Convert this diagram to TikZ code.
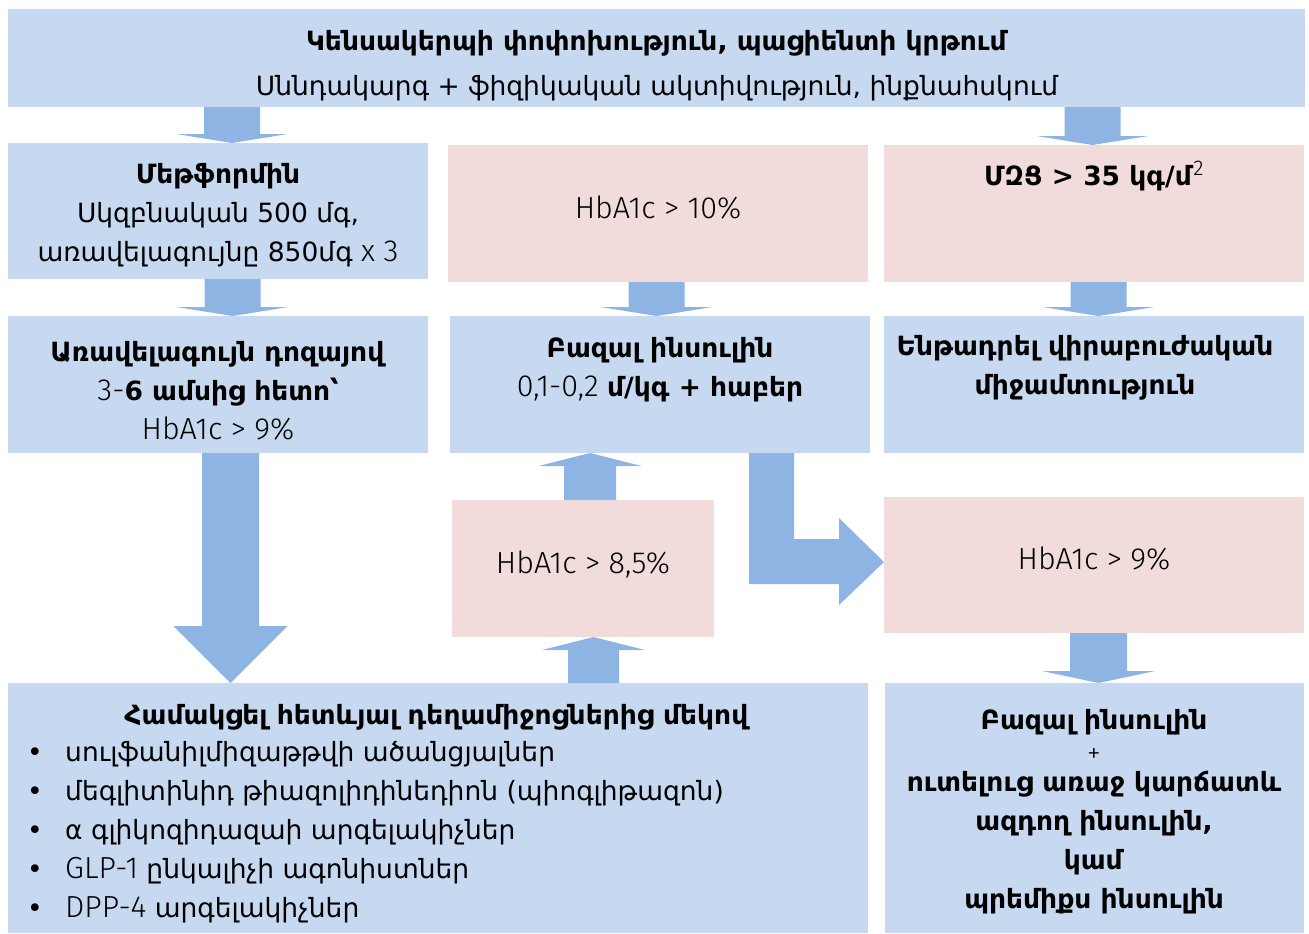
\documentclass[tikz,border=0pt]{standalone}
\usepackage{fontspec}
\setmainfont{DejaVu Sans}
\newfontfamily\lightfont[Scale=1.15]{Fira Sans Light}
\usetikzlibrary{positioning,calc}
\definecolor{boxblue}{HTML}{C6D9F1}
\definecolor{boxpink}{HTML}{F2DCDB}
\definecolor{arrowblue}{HTML}{8EB4E3}
\newcommand{\blockArrow}[5]{\coordinate (s) at (#1); \coordinate (t) at (#2);
	\coordinate (b) at ($(t)!#5!(s)$);
	\fill[arrowblue] ($(s)!#3!90:(t)$) -- ($(b)!#3!-90:(s)$) -- ($(b)!#4!-90:(s)$) -- (t)
	-- ($(b)!#4!90:(s)$) -- ($(b)!#3!90:(s)$) -- ($(s)!#3!-90:(t)$) -- cycle;}
\newcommand{\bulletItem}[3]{\node[lbl, anchor=base] (#1dot) at (35,#2) {•};
	\node[lbl, anchor=base west] (#1) at (65,#2) {#3};}
\begin{document}
\begin{tikzpicture}[x=1pt, y=-1pt, every text
				node part/.style={align=center},
				box/.style={minimum width=420, minimum height=137, anchor=north west, inner sep=0pt, outer sep=0pt},
				bluebox/.style={box, fill=boxblue}, pinkbox/.style={box, fill=boxpink},
				lbl/.style={font=\fontsize{26.5}{39}\selectfont, inner sep=0pt},
				thinlbl/.style={font=\lightfont\fontsize{26.5}{39}\selectfont, inner sep=0pt, anchor=base}]
	\useasboundingbox (0,0) rectangle (1309,934);
	% boxes
	\node[bluebox, minimum width=1297, minimum height=98] (top) at (8,9) {};
	\node[bluebox, minimum height=136] (metf) at (8,143) {};
	\node[bluebox] (maxd) at (8,316) {};
	\node[pinkbox] (hb10) at (448,145) {};
	\node[bluebox] (bazal) at (450,316) {};
	\node[pinkbox] (bmi) at (884,145) {};
	\node[bluebox] (surg) at (884,316) {};
	\node[pinkbox, minimum width=262] (hb85) at (452,500) {};
	\node[pinkbox, minimum height=136] (hb9) at (884,497) {};
	\node[bluebox, minimum width=860, minimum height=250] (combo) at (8,683) {};
	\node[bluebox, minimum width=419, minimum height=250] (ins) at (885,683) {};
	% texts
	\node[lbl] (topText) at (657,66) {\textbf{Կենսակերպի փոփոխություն, պացիենտի կրթում}\\[6pt]
		Սննդակարգ + ֆիզիկական ակտիվություն, ինքնահսկում};
	\node[lbl] (metfText) at (218,215.5) {\textbf{Մեթֆորմին}\\ Սկզբնական 500 մգ,\\
		առավելագույնը 850մգ {\lightfont x 3}};
	\node[lbl] (maxdText) at (218,390.5) {\textbf{Առավելագույն դոզայով}\\
		{\lightfont 3-}\textbf{6 ամսից հետո՝}\\ {\lightfont HbA1c > 9\%}};
	\node[thinlbl] (hb10Text) at (658,218) {HbA1c > 10\%};
	\node[lbl] (bazalText) at (660,370) {\textbf{Բազալ ինսուլին}\\
		{\lightfont 0,1-0,2} \textbf{մ/կգ + հաբեր}};
	\node[lbl, anchor=base] (bmiText) at (1094,185) {\textbf{ՄԶՑ > 35 կգ/մ}\textsuperscript{\lightfont 2}};
	\node[lbl] (surgText) at (1085,367.5) {\textbf{Ենթադրել վիրաբուժական}\\ \textbf{միջամտություն}};
	\node[thinlbl] (hb85Text) at (583,573) {HbA1c > 8,5\%};
	\node[thinlbl] (hb9Text) at (1094,569) {HbA1c > 9\%};
	\node[lbl, anchor=base] (comboHead) at (437,724) {\textbf{Համակցել հետևյալ դեղամիջոցներից մեկով}};
	\bulletItem{itemA}{761}{սուլֆանիլմիզաթթվի ածանցյալներ}
	\bulletItem{itemB}{800}{մեգլիտինիդ թիազոլիդինեդիոն (պիոգլիթազոն)}
	\bulletItem{itemC}{839}{α գլիկոզիդազաի արգելակիչներ}
	\bulletItem{itemD}{878}{{\lightfont GLP-1} ընկալիչի ագոնիստներ}
	\bulletItem{itemE}{917}{{\lightfont DPP-4} արգելակիչներ}
	\node[lbl, anchor=base] (insTop) at (1094,729) {\textbf{Բազալ ինսուլին}};
	\node[lbl, anchor=center] (insPlus) at (1094,755) {\lightfont\fontsize{24}{24}\selectfont +};
	\node[lbl] (insRest) at (1094,843) {\textbf{ուտելուց առաջ կարճատև}\\ \textbf{ազդող ինսուլին,}\\
		\textbf{կամ}\\ \textbf{պրեմիքս ինսուլին}};
	% arrows
	\blockArrow{top.south -| 232,0}{metf.north -| 232,0}{28pt}{56pt}{9pt}
	\blockArrow{top.south -| 1092.5,0}{bmi.north -| 1092.5,0}{28pt}{56pt}{9pt}
	\blockArrow{metf.south -| 232.5,0}{maxd.north -| 232.5,0}{28pt}{56pt}{9pt}
	\blockArrow{hb10.south -| 656.5,0}{bazal.north -| 656.5,0}{28pt}{56pt}{9pt}
	\blockArrow{bmi.south -| 1098.5,0}{surg.north -| 1098.5,0}{28pt}{56pt}{9pt}
	\blockArrow{maxd.south -| 230.5,0}{combo.north -| 230.5,0}{28.5pt}{57pt}{57pt}
	\blockArrow{hb85.north -| 590,0}{bazal.south -| 590,0}{26pt}{51.5pt}{13pt}
	\blockArrow{combo.north -| 593.5,0}{hb85.south -| 593.5,0}{25.5pt}{51.5pt}{13pt}
	\blockArrow{hb9.south -| 1098.5,0}{ins.north -| 1098.5,0}{28.5pt}{56.5pt}{12pt}
	\fill[arrowblue] (bazal.south -| 749,0) -- (bazal.south -| 794,0) -- (794,539) -- (839,539)
		-- (839,518) -- ($(hb9.west)+(0,-3)$) -- (839,605) -- (839,584) -- (749,584) -- cycle;
\end{tikzpicture}
\end{document}
